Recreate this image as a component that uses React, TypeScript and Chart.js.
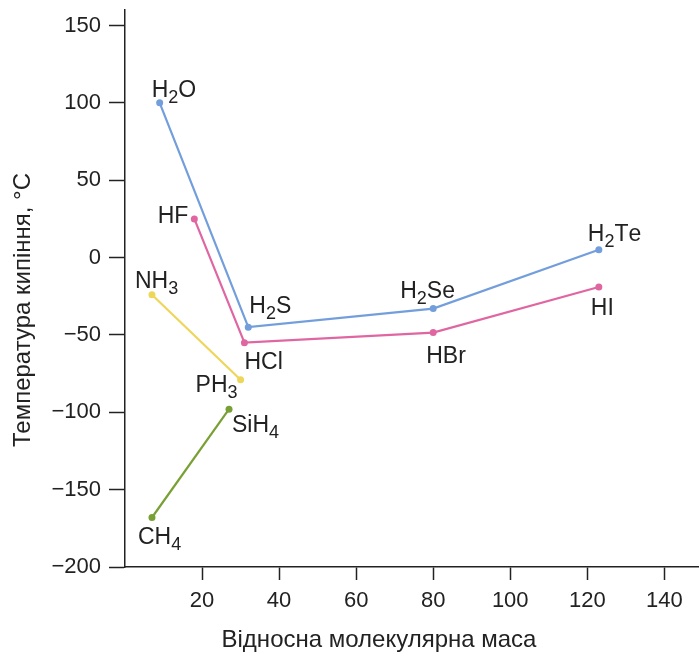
import React, { useEffect, useRef } from "react";
import { Chart, registerables } from "chart.js";

Chart.register(...registerables);

// ---- data ----
const chalcogenMass = [9, 32, 80, 123];
const chalcogenTemp = [100, -45, -33, 5];
const chalcogenNames = ["H_2O", "H_2S", "H_2Se", "H_2Te"];

const halogenMass = [18, 31, 80, 123];
const halogenTemp = [25, -55, -48.5, -19];
const halogenNames = ["HF", "HCl", "HBr", "HI"];

const pnictogenMass = [7, 30];
const pnictogenTemp = [-24, -79];
const pnictogenNames = ["NH_3", "PH_3"];

const tetrelMass = [7, 27];
const tetrelTemp = [-168, -98];
const tetrelNames = ["CH_4", "SiH_4"];

const xTicks = [20, 40, 60, 80, 100, 120, 140];
const yTicks = [-200, -150, -100, -50, 0, 50, 100, 150];
const xRange = [0, 149];
const yRange = [-200, 160];

const xTitle = "Відносна молекулярна маса";
const yTitle = "Температура кипіння, °C";

// ---- styles ----
const FONT = "'Liberation Sans', Arial, Helvetica, sans-serif";
const INK = "#222222";
const colors = ["#739edc", "#e066a2", "#eed65a", "#78a034"];

// label placement per dataset per point: [dx, dy(baseline), align]
const labelPlacement: [number, number, string][][] = [
  [[-8, -6, "left"], [1, -14, "left"], [-33, -11, "left"], [-11, -9, "left"]],
  [[-6, 4, "right"], [0, 26, "left"], [-7, 30, "left"], [-8, 28, "left"]],
  [[-17, -7, "left"], [-3, 12, "right"]],
  [[-14, 27, "left"], [3, 23, "left"]],
];

function toPoints(xs: number[], ys: number[]) {
  return xs.map((x, i) => ({ x, y: ys[i] }));
}

function parseFormula(s: string) {
  const parts: { t: string; sub: boolean }[] = [];
  let i = 0;
  while (i < s.length) {
    if (s[i] === "_") {
      parts.push({ t: s[i + 1], sub: true });
      i += 2;
    } else {
      parts.push({ t: s[i], sub: false });
      i += 1;
    }
  }
  return parts;
}

const labelPlugin = {
  id: "formulaLabels",
  afterDatasetsDraw(chart: any) {
    const ctx = chart.ctx;
    const names = [chalcogenNames, halogenNames, pnictogenNames, tetrelNames];
    ctx.save();
    ctx.fillStyle = INK;
    ctx.textBaseline = "alphabetic";
    ctx.textAlign = "left";
    names.forEach((list, di) => {
      const meta = chart.getDatasetMeta(di);
      list.forEach((name, pi) => {
        const el = meta.data[pi];
        if (!el) return;
        const [dx, dy, align] = labelPlacement[di][pi];
        const parts = parseFormula(name);
        const widths = parts.map((p) => {
          ctx.font = `${p.sub ? 18 : 23}px ${FONT}`;
          return ctx.measureText(p.t).width;
        });
        const total = widths.reduce((a, b) => a + b, 0);
        let x = el.x + dx - (align === "right" ? total : 0);
        const y = el.y + dy;
        parts.forEach((p, k) => {
          ctx.font = `${p.sub ? 18 : 23}px ${FONT}`;
          ctx.fillText(p.t, x, p.sub ? y + 6 : y);
          x += widths[k];
        });
      });
    });
    // axis titles
    ctx.font = `24px ${FONT}`;
    ctx.textAlign = "center";
    ctx.textBaseline = "middle";
    ctx.fillText(xTitle, 379, 640);
    ctx.translate(23, 310);
    ctx.rotate(-Math.PI / 2);
    ctx.fillText(yTitle, 0, 0);
    ctx.restore();
  },
};

export default function App() {
  const ref = useRef<HTMLCanvasElement | null>(null);
  useEffect(() => {
    if (!ref.current) return;
    const mk = (pts: any, c: string) => ({
      data: pts,
      showLine: true,
      borderColor: c,
      backgroundColor: c,
      pointBackgroundColor: c,
      pointBorderWidth: 0,
      pointRadius: 3.5,
      borderWidth: 2.2,
      fill: false,
      tension: 0,
    });
    const chart = new Chart(ref.current, {
      type: "scatter",
      data: {
        datasets: [
          mk(toPoints(chalcogenMass, chalcogenTemp), colors[0]),
          mk(toPoints(halogenMass, halogenTemp), colors[1]),
          mk(toPoints(pnictogenMass, pnictogenTemp), colors[2]),
          mk(toPoints(tetrelMass, tetrelTemp), colors[3]),
        ],
      },
      options: {
        animation: false,
        responsive: false,
        devicePixelRatio: 1,
        layout: { autoPadding: false, padding: { top: 10, right: 0, left: 0, bottom: 0 } },
        plugins: { legend: { display: false }, tooltip: { enabled: false } },
        scales: {
          x: {
            type: "linear",
            min: xRange[0],
            max: xRange[1],
            afterBuildTicks: (axis: any) => {
              axis.ticks = xTicks.map((v) => ({ value: v }));
            },
            afterFit: (scale: any) => {
              scale.height = 85;
              scale.paddingLeft = 0;
              scale.paddingRight = 0;
            },
            border: { display: true, color: INK, width: 1.5 },
            grid: {
              display: true,
              drawOnChartArea: false,
              drawTicks: true,
              tickLength: 13,
              tickColor: INK,
              tickWidth: 1.5,
            },
            ticks: {
              color: INK,
              padding: 8,
              font: { family: FONT, size: 22 },
              callback: (v: any) => String(v),
            },
          },
          y: {
            type: "linear",
            min: yRange[0],
            max: yRange[1],
            afterBuildTicks: (axis: any) => {
              axis.ticks = yTicks.map((v) => ({ value: v }));
            },
            afterFit: (scale: any) => {
              scale.width = 125;
              scale.paddingTop = 0;
              scale.paddingBottom = 0;
            },
            border: { display: true, color: INK, width: 1.5 },
            grid: {
              display: true,
              drawOnChartArea: false,
              drawTicks: true,
              tickLength: 16,
              tickColor: INK,
              tickWidth: 1.5,
            },
            ticks: {
              color: INK,
              padding: 8,
              font: { family: FONT, size: 22 },
              callback: (v: any) => String(v).replace("-", "\u2212"),
            },
          },
        },
      },
      plugins: [labelPlugin],
    } as any);
    return () => chart.destroy();
  }, []);
  return (
    <div style={{ position: "fixed", left: 0, top: 0, width: 699, height: 652, background: "#fff" }}>
      <canvas ref={ref} width={699} height={652} style={{ display: "block" }} />
    </div>
  );
}
